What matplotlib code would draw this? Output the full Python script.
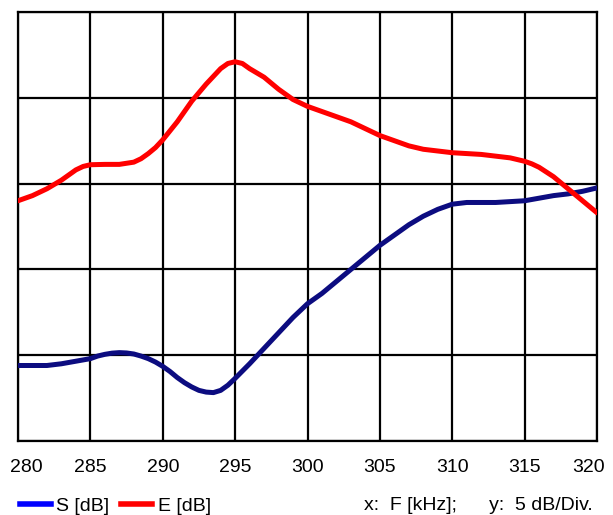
import matplotlib
matplotlib.use("Agg")
import matplotlib.pyplot as plt
from matplotlib.lines import Line2D
from matplotlib.transforms import ScaledTranslation

plt.rcParams['font.family'] = ['Liberation Sans', 'DejaVu Sans']

# S curve (denser where it bends)
s_freq = [280, 281, 282, 283, 284, 285, 285.5, 286, 286.5, 287, 287.5, 288,
          288.5, 289, 289.5, 290, 290.5, 291, 291.5, 292, 292.5, 293, 293.5,
          294, 294.5, 295, 296, 297, 298, 299, 300, 301, 302, 303, 304, 305,
          306, 307, 308, 309, 309.5, 310, 311, 312, 313, 314, 315, 316, 317,
          318, 319, 320]
s_db = [-20.6, -20.6, -20.6, -20.5, -20.35, -20.2, -20.05, -19.95, -19.88,
        -19.85, -19.87, -19.93, -20.05, -20.2, -20.4, -20.65, -20.95, -21.3,
        -21.6, -21.85, -22.05, -22.15, -22.18, -22.05, -21.75, -21.35, -20.5,
        -19.6, -18.7, -17.8, -17.0, -16.4, -15.7, -15.0, -14.3, -13.6, -13.0,
        -12.4, -11.9, -11.5, -11.35, -11.2, -11.1, -11.1, -11.1, -11.05,
        -11.0, -10.85, -10.7, -10.6, -10.45, -10.25]

# E curve
e_freq = [280, 281, 282, 283, 283.5, 284, 284.5, 285, 286, 287, 288, 288.5,
          289, 289.5, 290, 291, 292, 293, 294, 294.5, 295, 295.5, 296, 297,
          298, 299, 300, 301, 302, 303, 304, 305, 306, 307, 308, 309, 310,
          311, 312, 313, 314, 315, 315.5, 316, 317, 318, 319, 320]
e_db = [-11.0, -10.7, -10.3, -9.8, -9.5, -9.2, -9.0, -8.9, -8.88, -8.88,
        -8.75, -8.55, -8.25, -7.9, -7.45, -6.4, -5.2, -4.2, -3.3, -3.0, -2.9,
        -3.0, -3.3, -3.8, -4.5, -5.1, -5.5, -5.8, -6.1, -6.4, -6.8, -7.2,
        -7.5, -7.8, -8.0, -8.1, -8.2, -8.25, -8.3, -8.4, -8.5, -8.7, -8.85,
        -9.05, -9.6, -10.3, -11.0, -11.7]

x_ticks = [280, 285, 290, 295, 300, 305, 310, 315, 320]
y_grid = [-25, -20, -15, -10, -5, 0]

fig = plt.figure(figsize=(6.13, 5.15), dpi=100)
ax = fig.add_axes([18 / 613, 74 / 515, 579 / 613, 429 / 515])

ax.plot(s_freq, s_db, color="#0c0c80", linewidth=3.6,
        solid_capstyle="round", solid_joinstyle="round", zorder=3)
ax.plot(e_freq, e_db, color="#ff0000", linewidth=3.6,
        solid_capstyle="round", solid_joinstyle="round", zorder=3)

ax.set_xlim(280, 320)
ax.set_ylim(-25, 0)
ax.set_xticks(x_ticks)
ax.set_yticks(y_grid)
ax.set_yticklabels([])
ax.grid(True, color="black", linewidth=1.6)
ax.tick_params(axis="both", length=0)
ax.tick_params(axis="x", pad=13, labelsize=14)
for sp in ax.spines.values():
    sp.set_linewidth(1.6)
    sp.set_color("black")

# end labels sit a little inside the frame, as in the original
labels = ax.get_xticklabels()
labels[0].set_transform(labels[0].get_transform() +
                        ScaledTranslation(8 / 100, 0, fig.dpi_scale_trans))
labels[-1].set_transform(labels[-1].get_transform() +
                         ScaledTranslation(-8 / 100, 0, fig.dpi_scale_trans))

handles = [Line2D([], [], color="#0000ff", linewidth=4),
           Line2D([], [], color="#ff0000", linewidth=4)]
fig.legend(handles, ["S [dB]", "E [dB]"], loc="center left",
           bbox_to_anchor=(20 / 613, 9 / 515), ncol=2, frameon=False,
           fontsize=14, handlelength=1.6, handletextpad=0.27,
           columnspacing=0.6, borderaxespad=0, borderpad=0)
fig.text(593 / 613, 9 / 515, "x:  F [kHz];      y:  5 dB/Div.", ha="right",
         va="center", fontsize=14)

fig.savefig("out.png", dpi=100)
